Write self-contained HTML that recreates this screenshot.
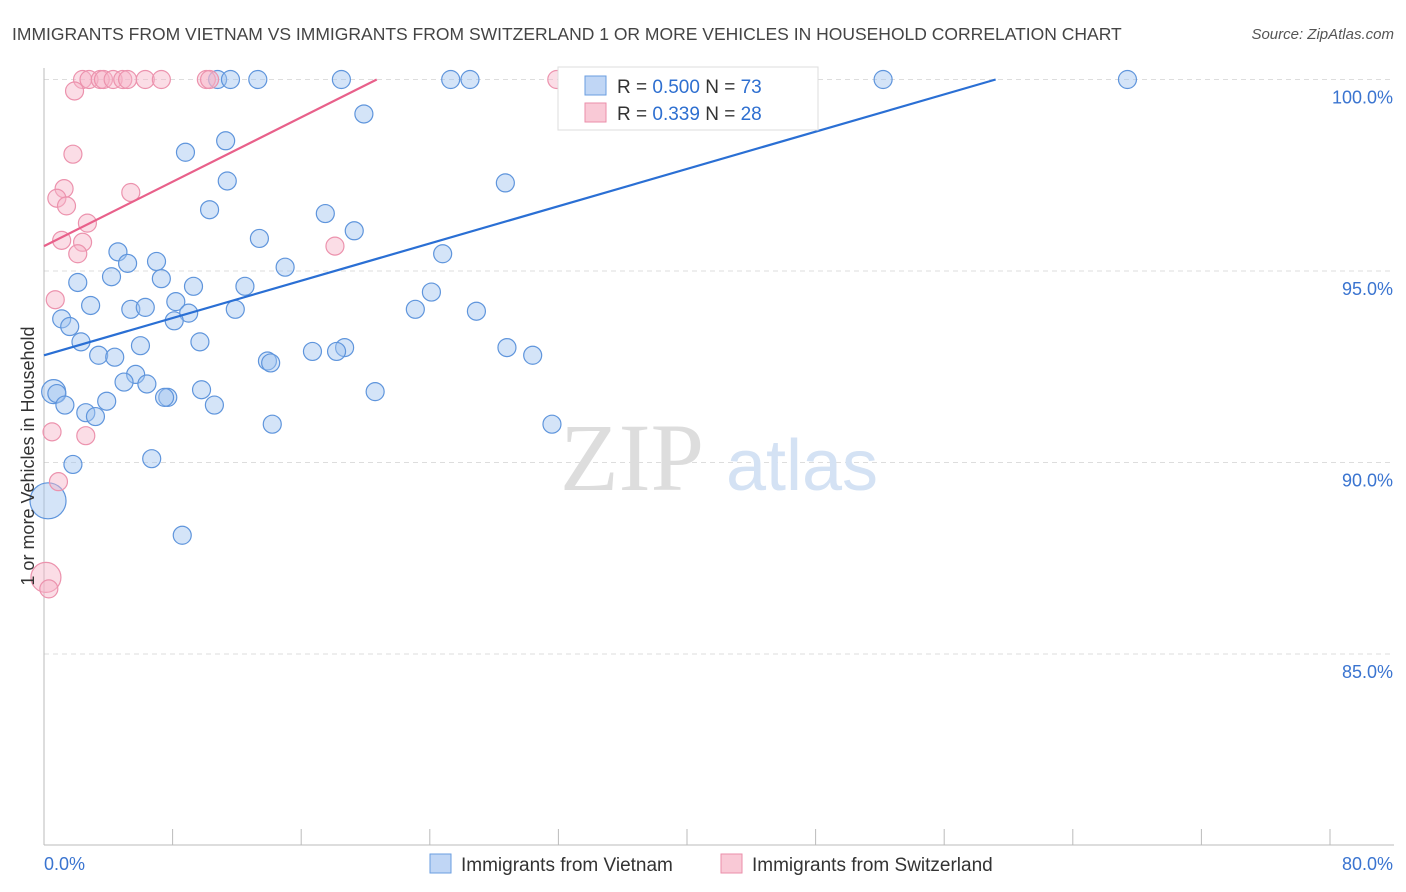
<!DOCTYPE html>
<html><head><meta charset="utf-8"><style>
body{margin:0;background:#fff;font-family:"Liberation Sans",sans-serif}
svg{display:block}
</style></head><body>
<svg width="1406" height="892" viewBox="0 0 1406 892" xmlns="http://www.w3.org/2000/svg">
<text x="12" y="40" font-size="17.5" fill="#444">IMMIGRANTS FROM VIETNAM VS IMMIGRANTS FROM SWITZERLAND 1 OR MORE VEHICLES IN HOUSEHOLD CORRELATION CHART</text>
<text x="1394" y="39" font-size="15" fill="#555" font-style="italic" text-anchor="end">Source: ZipAtlas.com</text>
<g id="grid"></g>
<g>
<text x="632" y="490" font-size="96" fill="#ddd" font-family="Liberation Serif, serif" text-anchor="middle">ZIP</text>
<text x="802" y="490" font-size="72" fill="#d4e2f4" text-anchor="middle">atlas</text>
</g>
<g id="axes"></g>
<g id="pts"></g>
<g id="lines"></g>
<text transform="translate(34,456) rotate(-90)" font-size="18" fill="#333" text-anchor="middle">1 or more Vehicles in Household</text>
<g>
<rect x="558" y="67" width="260" height="63" fill="#fff" stroke="#ddd"/>
<rect x="585" y="76" width="21" height="19" fill="#c0d6f5" stroke="#6a9ee0"/>
<rect x="585" y="103" width="21" height="19" fill="#f9c9d6" stroke="#eb8eaa"/>
<text x="617" y="93" font-size="19" fill="#333">R = <tspan fill="#2e6fd0">0.500</tspan>   N = <tspan fill="#2e6fd0">73</tspan></text>
<text x="617" y="120" font-size="19" fill="#333">R =  <tspan fill="#2e6fd0">0.339</tspan>   N = <tspan fill="#2e6fd0">28</tspan></text>
</g>
<g>
<rect x="430" y="854" width="21" height="19" fill="#c0d6f5" stroke="#6a9ee0"/>
<text x="461" y="871" font-size="19" fill="#333">Immigrants from Vietnam</text>
<rect x="721" y="854" width="21" height="19" fill="#f9c9d6" stroke="#eb8eaa"/>
<text x="752" y="871" font-size="19" fill="#333">Immigrants from Switzerland</text>
</g>
</svg>
<script>
const yTicks=[100,95,90,85];
const yTickLabels=["100.0%","95.0%","90.0%","85.0%"];
const xTickLabels=["0.0%","80.0%"];
const vietX=[10.8,11.6,13.3,18.5,25.3,26.5,43.2,52.2,67.4,19.9,11.3,8.8,11.4,28.7,10.3,17.5,19.3,13.4,4.6,24.8,7.0,15.0,5.2,4.2,7.3,2.1,9.3,12.5,24.1,2.9,8.2,5.4,6.3,23.1,11.9,26.9,9.0,8.1,1.1,1.6,9.7,2.3,6.0,28.8,18.7,16.7,18.2,3.4,4.4,30.4,13.9,14.1,5.7,4.98,6.4,9.8,20.6,0.6,0.8,7.7,7.5,3.9,1.3,10.6,2.6,3.2,14.2,31.6,1.8,6.7,0.25,8.6];
const vietY=[100,100,100,100,100,100,100,100,100,99.1,98.4,98.1,97.35,97.3,96.6,96.5,96.05,95.85,95.5,95.45,95.25,95.1,95.2,94.85,94.8,94.7,94.6,94.6,94.45,94.1,94.2,94.0,94.05,94.0,94.0,93.95,93.9,93.7,93.75,93.55,93.15,93.15,93.05,93.0,93.0,92.9,92.9,92.8,92.75,92.8,92.65,92.6,92.3,92.1,92.05,91.9,91.85,91.85,91.8,91.7,91.7,91.6,91.5,91.5,91.3,91.2,91.0,91.0,89.95,90.1,89.0,88.1];
const vietR=[9,9,9,9,9,9,9,9,9,9,9,9,9,9,9,9,9,9,9,9,9,9,9,9,9,9,9,9,9,9,9,9,9,9,9,9,9,9,9,9,9,9,9,9,9,9,9,9,9,9,9,9,9,9,9,9,9,12,9,9,9,9,9,9,9,9,9,9,9,9,18,9];
const swissX=[2.4,2.8,3.5,3.7,4.3,4.9,5.2,6.3,7.3,10.1,10.3,31.9,1.9,1.8,1.25,0.8,1.4,5.4,2.7,1.1,2.4,2.1,18.1,0.7,0.5,2.6,0.9,0.12,0.3];
const swissY=[100,100,100,100,100,100,100,100,100,100,100,100,99.7,98.05,97.15,96.9,96.7,97.05,96.25,95.8,95.75,95.45,95.65,94.25,90.8,90.7,89.5,87.0,86.7];
const swissR=[9,9,9,9,9,9,9,9,9,9,9,9,9,9,9,9,9,9,9,9,9,9,9,9,9,9,9,15,9];
const vietLine=[[0,92.8],[59.2,100]];
const swissLine=[[0,95.65],[20.7,100]];
const NS="http://www.w3.org/2000/svg";
const X=v=>44+v*16.075, Y=v=>79.5+(100-v)*38.3;
function mk(tag,attrs,parent){const e=document.createElementNS(NS,tag);for(const k in attrs)e.setAttribute(k,attrs[k]);parent.appendChild(e);return e;}
const grid=document.getElementById('grid'),axes=document.getElementById('axes'),pts=document.getElementById('pts'),lines=document.getElementById('lines');
yTicks.forEach((t,i)=>{
 const l=mk('line',{x1:44,x2:1394,y1:Y(t),y2:Y(t),stroke:'#ddd','stroke-dasharray':'5,4'},grid);
 
 
 const tx=mk('text',{x:1393,y:Y(t)+24,'font-size':18,fill:'#3a74d0','text-anchor':'end'},axes);
 tx.textContent=yTickLabels[i];
 
 
});
const ya=mk('line',{x1:44,x2:44,y1:68,y2:845,stroke:'#bbb'},axes);


const xa=mk('line',{x1:44,x2:1394,y1:845,y2:845,stroke:'#bbb'},axes);


for(let i=0;i<=10;i++){const xp=44+i*128.6;const t=mk('line',{x1:xp,x2:xp,y1:829,y2:845,stroke:'#bbb'},axes);
 
 }
[[0,'start',44],[1,'end',1393]].forEach(([i,a,xp])=>{const t=mk('text',{x:xp,y:870,'font-size':18,fill:'#3a74d0','text-anchor':a},axes);t.textContent=xTickLabels[i];
 
 });
vietX.forEach((v,i)=>{const c=mk('circle',{cx:X(v),cy:Y(vietY[i]),r:vietR[i],fill:'rgba(160,196,240,0.45)',stroke:'#5f95dc','stroke-width':1.2},pts);
 
 });
swissX.forEach((v,i)=>{const c=mk('circle',{cx:X(v),cy:Y(swissY[i]),r:swissR[i],fill:'rgba(246,180,200,0.45)',stroke:'#ec92ad','stroke-width':1.2},pts);
 
 });
const l1=mk('line',{x1:X(vietLine[0][0]),y1:Y(vietLine[0][1]),x2:X(vietLine[1][0]),y2:Y(vietLine[1][1]),stroke:'#2a6fd4','stroke-width':2.2},lines);


const l2=mk('line',{x1:X(swissLine[0][0]),y1:Y(swissLine[0][1]),x2:X(swissLine[1][0]),y2:Y(swissLine[1][1]),stroke:'#e8608a','stroke-width':2.2},lines);


</script>
</body></html>
